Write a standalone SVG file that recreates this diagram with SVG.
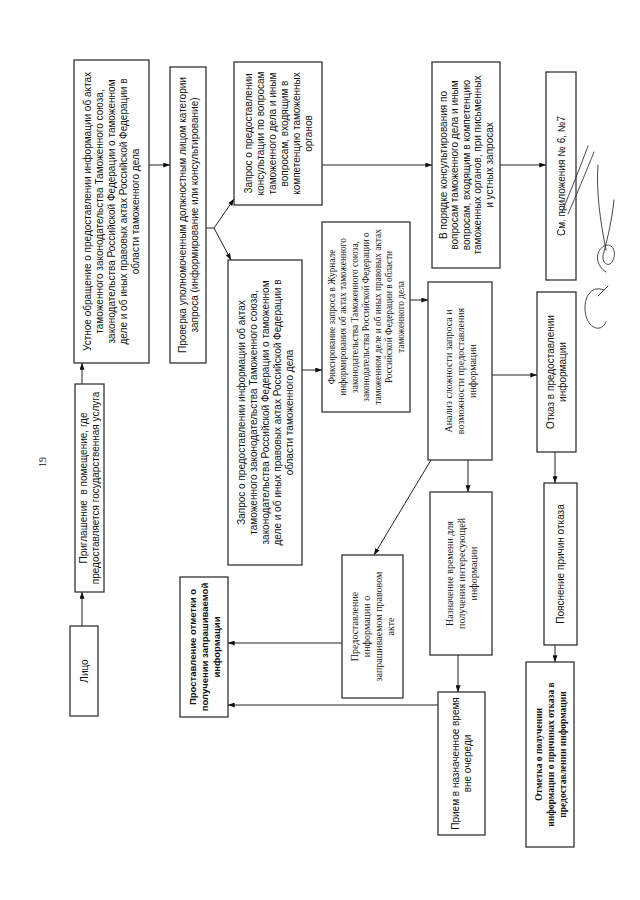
<svg xmlns="http://www.w3.org/2000/svg" width="640" height="900" viewBox="0 0 640 900">
<defs>
<marker id="ah" viewBox="0 0 8 6" refX="8" refY="3" markerWidth="7" markerHeight="5" markerUnits="userSpaceOnUse" orient="auto"><path d="M0,0 L8,3 L0,6 z" fill="#111"/></marker>
<style>
rect{fill:#fff;stroke:#222;stroke-width:1.2}
.s{font-family:"Liberation Sans",Arial,sans-serif;font-size:10px;fill:#111;text-anchor:middle}
.r{font-family:"Liberation Serif","Times New Roman",serif;font-size:10px;fill:#111;text-anchor:middle}
.b{font-weight:bold;font-size:9.5px}
#connectors path{fill:none;stroke:#222;stroke-width:1}
.sig{fill:none;stroke:#333;stroke-width:0.9;stroke-linecap:round}
</style>
</defs>
<rect x="0" y="0" width="640" height="900" style="fill:#fff;stroke:none"/>
<text class="r" transform="translate(42,462) rotate(-90)" y="3.5">19</text>

<g id="n-lico"><rect x="70" y="626" width="28" height="90"/>
<text class="s" transform="translate(84,671) rotate(-90)"><tspan x="0" y="3.5">Лицо</tspan></text></g>

<g id="n-priglashenie"><rect x="75" y="384" width="29" height="208"/>
<text class="s" transform="translate(89.5,488) rotate(-90)"><tspan x="0" y="-2.5" xml:space="preserve">Приглашение  в помещение, где</tspan><tspan x="0" y="9.5">предоставляется государственная услуга</tspan></text></g>

<g id="n-ustnoe"><rect x="74" y="60" width="75" height="303"/>
<text class="s" transform="translate(111.5,211.5) rotate(-90)"><tspan x="0" y="-20.5">Устное обращение о предоставлении информации об актах</tspan><tspan x="0" y="-8.5">таможенного законодательства Таможенного союза,</tspan><tspan x="0" y="3.5">законодательства Российской Федерации о таможенном</tspan><tspan x="0" y="15.5">деле и об иных правовых актах Российской Федерации в</tspan><tspan x="0" y="27.5">области таможенного дела</tspan></text></g>

<g id="n-proverka"><rect x="170" y="67" width="36" height="296"/>
<text class="s" transform="translate(188,215) rotate(-90)"><tspan x="0" y="-2.5">Проверка уполномоченным должностным лицом категории</tspan><tspan x="0" y="9.5">запроса (информирование или консультирование)</tspan></text></g>

<g id="n-zapros-kons"><rect x="234" y="62" width="88" height="143"/>
<text class="s" transform="translate(278,133.5) rotate(-90)"><tspan x="0" y="-26.5">Запрос о предоставлении</tspan><tspan x="0" y="-14.5">консультации по вопросам</tspan><tspan x="0" y="-2.5">таможенного дела и иным</tspan><tspan x="0" y="9.5">вопросам, входящим в</tspan><tspan x="0" y="21.5">компетенцию таможенных</tspan><tspan x="0" y="33.5">органов</tspan></text></g>

<g id="n-zapros-info"><rect x="228" y="260" width="74" height="305"/>
<text class="s" transform="translate(265,412.5) rotate(-90)"><tspan x="0" y="-20.5">Запрос о предоставлении информации об актах</tspan><tspan x="0" y="-8.5">таможенного законодательства Таможенного союза,</tspan><tspan x="0" y="3.5">законодательства Российской Федерации о таможенном</tspan><tspan x="0" y="15.5">деле и об иных правовых актах Российской Федерации в</tspan><tspan x="0" y="27.5">области таможенного дела</tspan></text></g>

<g id="n-fiks"><rect x="322" y="222" width="88" height="190"/>
<text class="r" style="font-size:9.3px" transform="translate(366,317) rotate(-90)"><tspan x="0" y="-31.2">Фиксирование запроса в Журнале</tspan><tspan x="0" y="-19.7">информирования об актах таможенного</tspan><tspan x="0" y="-8.2">законодательства Таможенного союза,</tspan><tspan x="0" y="3.3">законодательства Российской Федерации о</tspan><tspan x="0" y="14.8">таможенном деле и об иных правовых актах</tspan><tspan x="0" y="26.3">Российской Федерации в области</tspan><tspan x="0" y="37.8">таможенного дела</tspan></text></g>

<g id="n-analiz"><rect x="428" y="282" width="64" height="178"/>
<text class="r" transform="translate(460,371) rotate(-90)"><tspan x="0" y="-8.5">Анализ сложности запроса и</tspan><tspan x="0" y="3.5">возможности предоставления</tspan><tspan x="0" y="15.5">информации</tspan></text></g>

<g id="n-poryadok"><rect x="432" y="62" width="68" height="206"/>
<text class="s" transform="translate(466,165) rotate(-90)"><tspan x="0" y="-19.5">В порядке консультирования по</tspan><tspan x="0" y="-8">вопросам таможенного дела и иным</tspan><tspan x="0" y="3.5">вопросам, входящим в компетенцию</tspan><tspan x="0" y="15">таможенных органов, при письменных</tspan><tspan x="0" y="26.5">и устных запросах</tspan></text></g>

<g id="n-sm"><rect x="546" y="72" width="30" height="208"/>
<text class="s" transform="translate(561,176) rotate(-90)"><tspan x="0" y="3.5">См. приложения № 6, №7</tspan></text></g>

<g id="n-otkaz"><rect x="537" y="292" width="39" height="160"/>
<text class="s" transform="translate(556.5,372) rotate(-90)"><tspan x="0" y="-2.5">Отказ в предоставлении</tspan><tspan x="0" y="9.5">информации</tspan></text></g>

<g id="n-naznachenie"><rect x="430" y="492" width="62" height="163"/>
<text class="r" transform="translate(461,573.5) rotate(-90)"><tspan x="0" y="-8.5">Назначение времени для</tspan><tspan x="0" y="3.5">получения интересующей</tspan><tspan x="0" y="15.5">информации</tspan></text></g>

<g id="n-priem"><rect x="438" y="692" width="47" height="143"/>
<text class="s" transform="translate(461.5,763.5) rotate(-90)"><tspan x="0" y="-2.5">Прием в назначенное время</tspan><tspan x="0" y="9.5">вне очереди</tspan></text></g>

<g id="n-predostavlenie"><rect x="342" y="555" width="61" height="143"/>
<text class="r" transform="translate(372.5,626.5) rotate(-90)"><tspan x="0" y="-14.5">Предоставление</tspan><tspan x="0" y="-2.5">информации о</tspan><tspan x="0" y="9.5">запрашиваемом правовом</tspan><tspan x="0" y="21.5">акте</tspan></text></g>

<g id="n-prostavlenie"><rect x="180" y="577" width="48" height="140"/>
<text class="s b" transform="translate(204,647) rotate(-90)"><tspan x="0" y="-8.5">Проставление отметки о</tspan><tspan x="0" y="3.5">получении запрашиваемой</tspan><tspan x="0" y="15.5">информации</tspan></text></g>

<g id="n-poyasnenie"><rect x="544" y="483" width="33" height="162"/>
<text class="s" transform="translate(560.5,564) rotate(-90)"><tspan x="0" y="3.5">Пояснение причин отказа</tspan></text></g>

<g id="n-otmetka"><rect x="526" y="662" width="48" height="185"/>
<text class="r b" transform="translate(550,754.5) rotate(-90)"><tspan x="0" y="-8.5">Отметка о получении</tspan><tspan x="0" y="3.5">информации о причинах отказа в</tspan><tspan x="0" y="15.5">предоставлении информации</tspan></text></g>

<g id="connectors">
<path d="M82,626 V592" marker-end="url(#ah)"/>
<path d="M82,384 V363" marker-end="url(#ah)"/>
<path d="M149,165 H170" marker-end="url(#ah)"/>
<path d="M206,228 H214 L234,199" marker-end="url(#ah)"/>
<path d="M214,228 L231,260" marker-end="url(#ah)"/>
<path d="M322,165 H432" marker-end="url(#ah)"/>
<path d="M500,165 H546" marker-end="url(#ah)"/>
<path d="M302,370 H322" marker-end="url(#ah)"/>
<path d="M410,300 H428" marker-end="url(#ah)"/>
<path d="M468,460 V492" marker-end="url(#ah)"/>
<path d="M431,460 L374,555" marker-end="url(#ah)"/>
<path d="M492,375 H537" marker-end="url(#ah)"/>
<path d="M458,655 V692" marker-end="url(#ah)"/>
<path d="M438,705 H228" marker-end="url(#ah)"/>
<path d="M342,643 H228" marker-end="url(#ah)"/>
<path d="M555,452 V483" marker-end="url(#ah)"/>
<path d="M555,645 V662" marker-end="url(#ah)"/>
</g>

<g id="signature">
<path class="sig" d="M604,290 C590,284 582,300 586,316 C590,330 602,332 606,322"/>
<path class="sig" d="M598,296 L608,286"/>
<path class="sig" d="M606,272 C596,266 594,252 604,246 C612,242 618,252 612,262 C608,268 600,262 604,252 C608,236 612,220 614,200"/>
<path class="sig" d="M606,250 C600,220 596,190 598,165"/>
<path class="sig" d="M562,212 C570,192 580,168 588,146"/>
<path class="sig" d="M568,214 C576,196 586,172 594,152"/>
</g>
</svg>
